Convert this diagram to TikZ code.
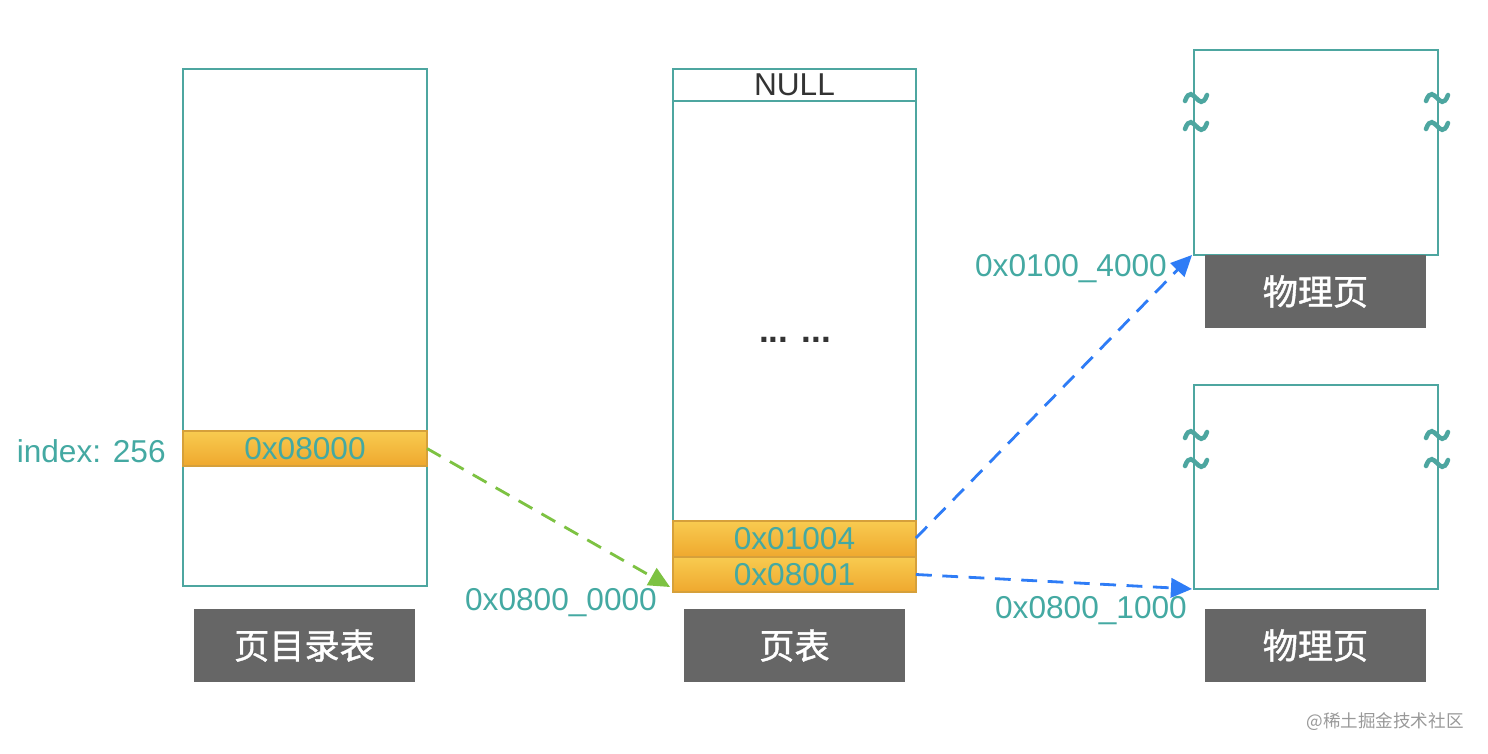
\documentclass[tikz,border=0pt]{standalone}
\usepackage{fontspec}
\setmainfont{Liberation Sans}
\newfontfamily\cjk{Noto Sans CJK SC}
\newfontfamily\cjkb[FakeBold=1.2]{Noto Sans CJK SC}
\usetikzlibrary{arrows.meta}
\definecolor{teal1}{HTML}{4DA6A0}
\definecolor{tealtxt}{HTML}{44A9A2}
\definecolor{orgtop}{HTML}{F8CB50}
\definecolor{orgbot}{HTML}{EFA82E}
\definecolor{orgline}{HTML}{D6A03A}
\definecolor{lblgray}{HTML}{666666}
\definecolor{greenarr}{HTML}{7DC242}
\definecolor{bluearr}{HTML}{2E7CF6}
\tikzset{
  frame/.style={draw=teal1, line width=1.1pt, fill=white, inner sep=0pt, outer sep=0pt, minimum width=4.88cm},
  entry/.style={draw=orgline, line width=0.9pt, top color=orgtop, bottom color=orgbot, inner sep=0pt, outer sep=0pt,
     minimum width=4.88cm, text=tealtxt, font=\fontsize{18}{20}\selectfont},
  lbl/.style={fill=lblgray, text=white, inner sep=0pt, minimum width=4.42cm, minimum height=1.46cm,
     font=\cjkb\fontsize{20}{22}\selectfont},
  addr/.style={text=tealtxt, inner sep=0pt, font=\fontsize{18}{20}\selectfont},
  darr/.style={dashed, dash pattern=on 9pt off 6pt, line width=1.6pt, -{Triangle[length=12pt,width=11pt]}},
  tld/.style={draw=teal1, line width=2.6pt, line cap=round}
}
\begin{document}
\begin{tikzpicture}[x=0.02cm,y=-0.02cm]
\useasboundingbox (0,0) rectangle (1488,754);
% page directory
\node[frame, minimum height=10.34cm] (pd) at (305,327.5) {};
\node[entry, minimum height=0.7cm] (pde) at (305,448.5) {0x08000};
\node[lbl] (pdl) at (304.5,645.5) {页目录表};
\node[addr, anchor=east] (idx) at (166,451) {index: 256};
% page table
\node[frame, minimum width=4.86cm, minimum height=9.04cm] (pt) at (794.5,295) {};
\node[frame, minimum width=4.86cm, minimum height=0.64cm, font=\fontsize{18}{20}\selectfont, text=black!80] (null) at (794.5,85) {NULL};
\node[font=\bfseries\fontsize{20}{22}\selectfont, text=black!80, inner sep=0pt, anchor=base] (dots) at (795,342) {... ...};
\node[entry, minimum width=4.86cm, minimum height=0.72cm] (pte1) at (794.5,539) {0x01004};
\node[entry, minimum width=4.86cm, minimum height=0.7cm] (pte2) at (794.5,574.5) {0x08001};
\node[lbl] (ptl) at (794.5,645.5) {页表};
% physical pages
\node[frame, minimum height=4.1cm] (pg1) at (1316,152.5) {};
\node[frame, minimum height=4.08cm] (pg2) at (1316,487) {};
\node[lbl] (pg1l) at (1315.5,291.5) {物理页};
\node[lbl] (pg2l) at (1315.5,645.5) {物理页};
% tildes
\foreach \cx/\cy in {1196/98,1196/126,1437/98,1437/126,1196/435,1196/463,1437/435,1437/463}{
  \draw[tld] (\cx-11,\cy+3) .. controls (\cx-7,\cy-8) and (\cx-3,\cy-3) .. (\cx,\cy) .. controls (\cx+3,\cy+3) and (\cx+7,\cy+8) .. (\cx+11,\cy-3);
}
% addresses
\node[addr] (a1) at (561,603) {0x0800\_0000};
\node[addr] (a2) at (1071,269) {0x0100\_4000};
\node[addr] (a3) at (1091,611) {0x0800\_1000};
% arrows
\draw[darr, greenarr] (pde.east) -- ([xshift=-0.06cm,yshift=0.1cm]pte2.south west);
\draw[darr, bluearr] ([yshift=0.02cm]pte1.east) -- ([xshift=-0.04cm]pg1.south west);
\draw[darr, bluearr] (pte2.east) -- ([xshift=-0.04cm]pg2.south west);
% watermark
\node[text=black!40, font=\cjk\fontsize{10}{12}\selectfont, inner sep=0pt] (wm) at (1385,722) {@稀土掘金技术社区};
\end{tikzpicture}
\end{document}
